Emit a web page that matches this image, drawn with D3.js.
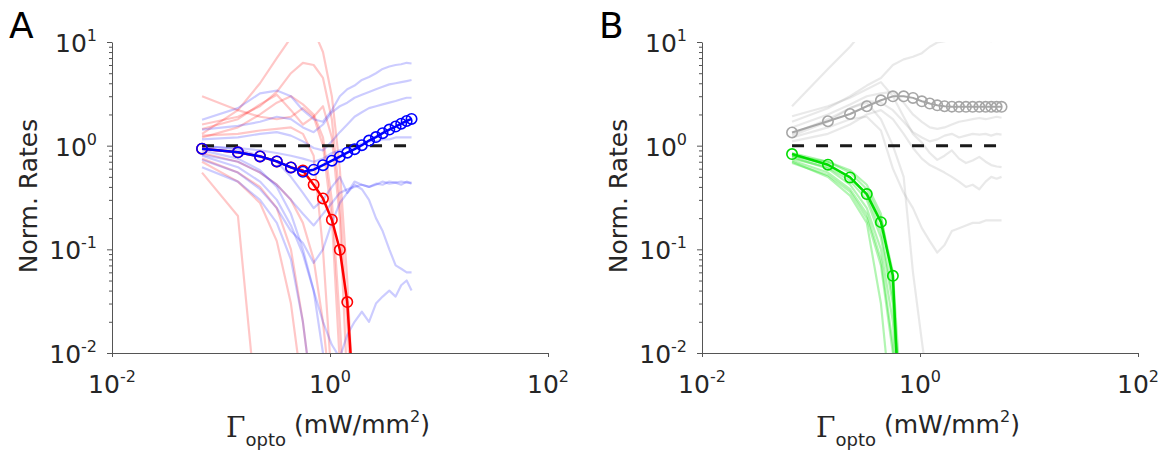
<!DOCTYPE html>
<html><head><meta charset="utf-8">
<script src="https://cdn.jsdelivr.net/npm/d3@7/dist/d3.min.js"></script>
<style>
html,body{margin:0;padding:0;background:#fff;}
text{font-family:"DejaVu Sans",sans-serif;fill:#262626;}
</style></head>
<body>
<svg id="chart" width="1163" height="456"></svg>
<script>
// ---- data ----
const xGrid = [0.067, 0.143, 0.228, 0.325, 0.438, 0.564, 0.708, 0.862, 1.04, 1.23, 1.44,
               1.68, 1.96, 2.28, 2.64, 3.04, 3.5, 4.0, 4.5, 5.05, 5.6];

const redMain  = [0.935, 0.862, 0.788, 0.705, 0.617, 0.577, 0.42, 0.31, 0.193, 0.099, 0.031, 0.0025];
const blueMain = [0.935, 0.862, 0.788, 0.705, 0.617, 0.56, 0.586, 0.648, 0.716, 0.783, 0.855,
                  0.925, 1.01, 1.12, 1.21, 1.32, 1.43, 1.53, 1.63, 1.73, 1.81];

const redThin = [
  [1.3, 2.2, 4.0, 7.0, 11, 15, 13, 8, 3, 0.6, 0.05, 0.002],
  [1.6, 1.9, 2.4, 3.3, 5.0, 6.3, 6.0, 4.5, 1.8, 0.3, 0.02, 0.001],
  [1.45, 1.8, 2.5, 3.1, 2.2, 1.6, 1.9, 2.4, 1.2, 0.2, 0.005],
  [1.2, 1.5, 2.0, 2.6, 3.0, 2.5, 2.0, 1.2, 0.3, 0.02, 0.001],
  [3.0, 2.2, 1.9, 1.8, 1.9, 2.3, 1.9, 1.0, 0.2, 0.008],
  [1.25, 1.3, 1.4, 1.45, 1.5, 1.3, 0.8, 0.1, 0.005],
  [0.55, 0.21, 0.0013],
  [0.7, 0.45, 0.28, 0.12, 0.03, 0.004],
  [0.75, 0.55, 0.4, 0.25, 0.1, 0.02, 0.003],
  [0.85, 0.7, 0.55, 0.42, 0.3, 0.18, 0.08, 0.02, 0.003]
];
const blueThin = [
  [1.78, 2.3, 3.2, 3.4, 3.0, 2.2, 1.8, 1.7, 2.2, 3.0, 3.5, 3.8, 4.3, 4.6, 5.0, 5.5, 5.8, 6.0, 6.1, 6.3, 6.2],
  [1.43, 1.55, 1.7, 1.9, 1.8, 1.5, 1.35, 1.6, 2.1, 2.4, 2.6, 2.9, 3.1, 3.3, 3.5, 3.7, 3.9, 4.0, 4.1, 4.2, 4.3],
  [1.15, 1.2, 1.3, 1.35, 1.25, 1.1, 0.95, 0.9, 1.1, 1.35, 1.6, 1.9, 2.1, 2.3, 2.4, 2.5, 2.6, 2.7, 2.8, 2.9, 2.9],
  [0.98, 0.95, 0.9, 0.85, 0.8, 0.75, 0.7, 0.75, 0.85, 0.9, 0.95, 1.0, 1.05, 1.1, 1.1, 1.15, 1.15, 1.2, 1.2, 1.2, 1.2],
  [0.82, 0.7, 0.55, 0.42, 0.3, 0.22, 0.17, 0.22, 0.28, 0.35, 0.38, 0.4, 0.42, 0.4, 0.42, 0.45, 0.43, 0.44, 0.45, 0.44, 0.44],
  [0.73, 0.55, 0.38, 0.25, 0.15, 0.115, 0.074, 0.1, 0.18, 0.28, 0.35, 0.42, 0.38, 0.3, 0.2, 0.15, 0.1, 0.07, 0.065, 0.06, 0.06],
  [0.9, 0.75, 0.58, 0.4, 0.22, 0.1, 0.04, 0.01, 0.003],
  [0.62, 0.45, 0.3, 0.18, 0.08, 0.02, 0.003],
  [0.8, 0.62, 0.45, 0.3, 0.17, 0.09, 0.04, 0.02, 0.012, 0.009, 0.015, 0.02, 0.025, 0.02, 0.03, 0.035, 0.04, 0.035, 0.045, 0.05, 0.04],
  [1.0, 0.92, 0.8, 0.7, 0.5, 0.35, 0.25, 0.3, 0.4, 0.5, 0.35, 0.45, 0.42, 0.4, 0.43, 0.42, 0.45, 0.44, 0.42, 0.45, 0.43]
];

const greenMain = [0.83, 0.655, 0.494, 0.341, 0.183, 0.0555, 0.0003];
const greyMain  = [1.34, 1.72, 2.02, 2.40, 2.74, 2.99, 2.99, 2.89, 2.68, 2.55, 2.45,
                   2.40, 2.38, 2.37, 2.37, 2.37, 2.37, 2.37, 2.37, 2.37, 2.37];

const greenThin = [
  [0.78, 0.6, 0.42, 0.25, 0.1, 0.02, 0.0008],
  [0.72, 0.55, 0.38, 0.22, 0.08, 0.012, 0.0005],
  [0.8, 0.66, 0.5, 0.33, 0.15, 0.035, 0.001],
  [0.7, 0.5, 0.33, 0.18, 0.03, 0.002],
  [0.75, 0.62, 0.46, 0.3, 0.13, 0.03, 0.001],
  [0.85, 0.7, 0.55, 0.38, 0.2, 0.06, 0.0015],
  [0.68, 0.52, 0.36, 0.2, 0.07, 0.01, 0.0004],
  [0.8, 0.7, 0.58, 0.42, 0.22, 0.045, 0.001]
];
const greyThin = [
  [2.4, 5.5, 9.0, 14, 20, 25, 30, 30, 30, 30, 30, 30, 30, 30, 30, 30, 30, 30, 30, 30, 30],
  [1.7, 2.3, 3.0, 3.8, 4.5, 6.0, 6.8, 7.2, 7.8, 9.0, 9.9, 10.2, 10.5, 10.3, 10.8, 10.5, 11, 10.5, 10.2, 10.5, 10.2],
  [1.92, 2.4, 2.9, 3.5, 4.1, 3.0, 1.9, 1.3, 1.07, 0.85, 0.73, 0.8, 0.9, 0.75, 0.68, 0.72, 0.78, 0.7, 0.65, 0.63, 0.62],
  [1.5, 2.0, 2.5, 3.0, 3.2, 3.3, 2.6, 2.0, 1.7, 1.5, 1.45, 1.5, 1.6, 1.7, 1.75, 1.8, 1.85, 1.8, 1.85, 1.9, 1.86],
  [1.3, 1.8, 2.3, 2.7, 2.6, 2.2, 1.7, 1.35, 1.2, 1.1, 1.15, 1.25, 1.3, 1.2, 1.25, 1.3, 1.28, 1.3, 1.25, 1.3, 1.28],
  [1.25, 1.7, 2.3, 2.6, 1.8, 1.0, 0.5, 0.06, 0.013, 0.0035],
  [1.2, 1.5, 1.8, 1.9, 1.4, 0.6, 0.35, 0.25, 0.16, 0.12, 0.093, 0.11, 0.15, 0.16, 0.17, 0.18, 0.18, 0.19, 0.19, 0.19, 0.19],
  [1.1, 1.3, 1.6, 2.0, 2.2, 1.8, 1.3, 0.95, 0.75, 0.65, 0.6, 0.55, 0.5, 0.45, 0.4, 0.42, 0.38, 0.45, 0.5, 0.48, 0.5]
];

const xTickVals = [1e-2, 1e0, 1e2];
const xTickExp  = ["-2", "0", "2"];
const yTickVals = [1e-2, 1e-1, 1e0, 1e1];
const yTickExp  = ["-2", "-1", "0", "1"];
const refLevel = 1;
const panelLetters = ["A", "B"];

// ---- drawing ----
const svg = d3.select("#chart");
const W = 436, TOP = 42, BOT = 353;
const FS = 25, SUP = 16;

function drawPanel(idx, left, thinSets, mains) {
  const g = svg.append("g");
  const x = d3.scaleLog().domain([1e-2, 1e2]).range([left, left + W]);
  const y = d3.scaleLog().domain([1e-2, 1e1]).range([BOT, TOP]);
  const clipId = "clip" + idx;
  svg.append("clipPath").attr("id", clipId).append("rect")
    .attr("x", left).attr("y", TOP).attr("width", W).attr("height", BOT - TOP);
  const line = d3.line().x((d, i) => x(xGrid[i])).y(d => y(d));
  const plot = g.append("g").attr("clip-path", `url(#${clipId})`);

  thinSets.forEach(s => {
    plot.append("g").selectAll("path").data(s.data).join("path")
      .attr("d", line).attr("fill", "none")
      .attr("stroke", s.color).attr("stroke-opacity", s.opacity)
      .attr("stroke-width", 2.2).attr("stroke-linejoin", "round");
  });

  // reference dashed line
  plot.append("path")
    .attr("d", d3.line().x(d => x(d)).y(() => y(refLevel))([xGrid[0], xGrid[xGrid.length - 1]]))
    .attr("stroke", "#1a1a1a").attr("stroke-width", 3).attr("stroke-dasharray", "12,12")
    .attr("fill", "none");

  mains.forEach(m => {
    plot.append("path").attr("d", line(m.data)).attr("fill", "none")
      .attr("stroke", m.color).attr("stroke-width", m.width).attr("stroke-linejoin", "round");
    plot.append("g").selectAll("circle")
      .data(m.data.map((v, i) => [xGrid[i], v]).filter(d => d[1] >= 1e-2))
      .join("circle")
      .attr("cx", d => x(d[0])).attr("cy", d => y(d[1])).attr("r", 5.2)
      .attr("fill", "none").attr("stroke", m.color).attr("stroke-width", 1.6);
  });

  // y axis
  const minor = [];
  for (let e = -2; e < 1; e++) for (let k = 2; k <= 9; k++) minor.push(k * Math.pow(10, e));
  const yAxMinor = g.append("g").attr("transform", `translate(${left},0)`)
    .call(d3.axisLeft(y).tickValues(minor).tickSize(3).tickSizeOuter(0).tickFormat(""));
  yAxMinor.select(".domain").remove();
  g.append("g").attr("transform", `translate(${left},0)`)
    .call(d3.axisLeft(y).tickValues(yTickVals).tickSize(5).tickSizeOuter(0).tickFormat(""));
  g.selectAll(".tick line, .domain").attr("stroke", "#555");

  yTickVals.forEach((v, i) => {
    const t = g.append("text").attr("x", left - 15).attr("y", y(v) + 10)
      .attr("text-anchor", "end").attr("font-size", FS);
    t.append("tspan").text("10");
    t.append("tspan").attr("font-size", SUP).attr("dy", -11).text(yTickExp[i]);
  });

  // x axis
  const xAx = g.append("g").attr("transform", `translate(0,${BOT})`)
    .call(d3.axisBottom(x).tickValues(xTickVals).tickSize(4).tickSizeOuter(0).tickFormat(""));
  xAx.selectAll(".tick line, .domain").attr("stroke", "#555");

  xTickVals.forEach((v, i) => {
    const t = g.append("text").attr("x", x(v)).attr("y", 393)
      .attr("text-anchor", "middle").attr("font-size", FS);
    t.append("tspan").text("10");
    t.append("tspan").attr("font-size", SUP).attr("dy", -11).text(xTickExp[i]);
  });

  // x label
  const cx = left + 216;
  const xl = g.append("text").attr("x", cx).attr("y", 433)
    .attr("text-anchor", "middle").attr("font-size", FS);
  xl.append("tspan").attr("dy", 4).attr("font-size", 28)
    .style("font-family", "'DejaVu Serif',serif").text("\u0393");
  xl.append("tspan").attr("dy", 9).attr("font-size", 18).text("opto");
  xl.append("tspan").attr("dy", -13).text("\u00a0(mW/mm");
  xl.append("tspan").attr("dy", -11).attr("font-size", SUP).text("2");
  xl.append("tspan").attr("dy", 11).text(")");

  // y label
  g.append("text").attr("transform", `translate(${left - 75},196) rotate(-90)`)
    .attr("text-anchor", "middle").attr("font-size", FS).text("Norm. Rates");

  // panel letter
  g.append("text").attr("x", left - 103).attr("y", 38).attr("font-size", 36)
    .style("fill", "#000").text(panelLetters[idx]);
}

drawPanel(0, 112,
  [{data: redThin, color: "#ff0000", opacity: 0.22},
   {data: blueThin, color: "#0000ff", opacity: 0.2}],
  [{data: redMain, color: "#ff0000", width: 2.5},
   {data: blueMain, color: "#0000ff", width: 2.5}]);

drawPanel(1, 702,
  [{data: greyThin, color: "#999999", opacity: 0.22},
   {data: greenThin, color: "#00dd00", opacity: 0.3}],
  [{data: greyMain, color: "#a6a6a6", width: 2},
   {data: greenMain, color: "#00dd00", width: 2.5}]);
</script>
</body></html>
